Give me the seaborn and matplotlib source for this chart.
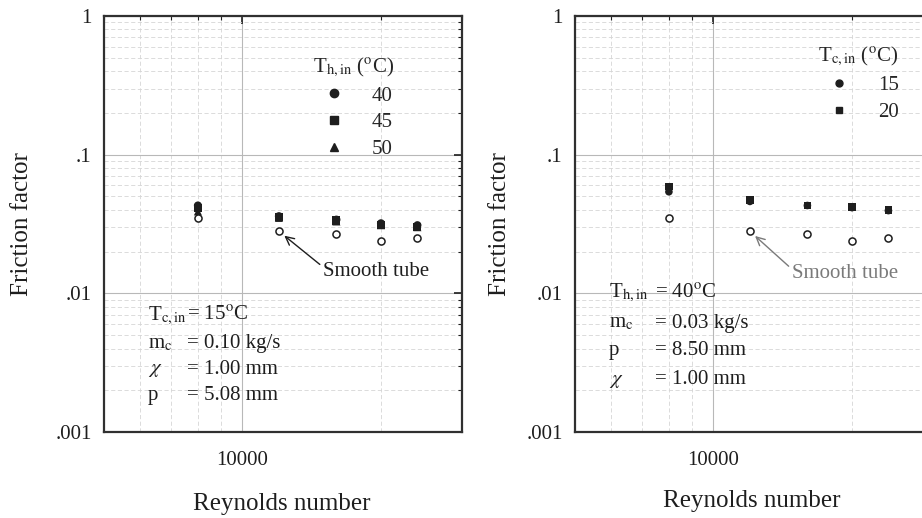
import matplotlib

matplotlib.use("Agg")
import matplotlib.pyplot as plt
import matplotlib.ticker as mticker
from matplotlib.lines import Line2D
import pandas as pd
import seaborn as sns

sns.set_style("white")
plt.rcParams["font.family"] = ["Liberation Serif", "DejaVu Serif"]
plt.rcParams["mathtext.fontset"] = "stix"

# Reynolds numbers (same for both panels)
RE = [8000, 12000, 16000, 20000, 24000]
F_SMOOTH = [0.035, 0.028, 0.027, 0.024, 0.025]

# left panel: hot inlet temperature series
TH_LABELS = ["40", "45", "50"]
F_TH40 = [0.043, 0.036, 0.034, 0.032, 0.031]
F_TH45 = [0.041, 0.0355, 0.0335, 0.031, 0.030]
F_TH50 = [0.039, 0.035, 0.033, 0.031, 0.030]

# right panel: cold inlet temperature series
TC_LABELS = ["15", "20"]
F_TC15 = [0.054, 0.046, 0.043, 0.0415, 0.0395]
F_TC20 = [0.059, 0.047, 0.043, 0.042, 0.040]

LEFT_NOTES = [
    (r"T$_{\mathrm{c,in}}$", r"= 15$^{\mathrm{o}}$C"),
    (r"m$_{\mathrm{c}}$", "= 0.10 kg/s"),
    (r"$\chi$", "= 1.00 mm"),
    ("p", "= 5.08 mm"),
]
RIGHT_NOTES = [
    (r"T$_{\mathrm{h,in}}$", r"= 40$^{\mathrm{o}}$C"),
    (r"m$_{\mathrm{c}}$", "= 0.03 kg/s"),
    ("p", "= 8.50 mm"),
    (r"$\chi$", "= 1.00 mm"),
]

INK = "#1e1e1e"
FS = 15


def style_axes(ax):
    ax.set_xscale("log")
    ax.set_yscale("log")
    ax.set_xlim(5000, 30000)
    ax.set_ylim(0.001, 1)
    ax.xaxis.set_major_locator(mticker.FixedLocator([10000]))
    ax.xaxis.set_major_formatter(mticker.FixedFormatter(["10000"]))
    ax.xaxis.set_minor_formatter(mticker.NullFormatter())
    ax.yaxis.set_major_locator(mticker.FixedLocator([0.001, 0.01, 0.1, 1]))
    ax.yaxis.set_major_formatter(mticker.FixedFormatter([".001", ".01", ".1", "1"]))
    ax.yaxis.set_minor_formatter(mticker.NullFormatter())
    ax.tick_params(which="both", direction="in", top=True, right=True, colors=INK, labelsize=FS)
    ax.tick_params(which="major", length=6, width=1.2)
    ax.tick_params(which="minor", length=3, width=0.8)
    ax.tick_params(axis="x", pad=14)
    ax.tick_params(axis="y", pad=9)
    ax.grid(which="major", color="#b8b8b8", lw=0.8)
    ax.grid(which="minor", color="#d6d6d6", lw=0.6, ls=(0, (5, 3)))
    ax.set_axisbelow(True)
    for sp in ax.spines.values():
        sp.set_color("#303030")
        sp.set_linewidth(1.6)
    ax.set_xlabel("Reynolds number", fontsize=18, color=INK)
    ax.set_ylabel("Friction factor", fontsize=18, color=INK)


def smooth_points(ax):
    sns.scatterplot(x=RE, y=F_SMOOTH, ax=ax, marker="o", s=26,
                    facecolor="white", edgecolor=INK, linewidth=1.1, zorder=3)


def notes(ax, rows, x_name, x_eq, ys, color):
    for (name, val), y in zip(rows, ys):
        ax.text(x_name, y, name, transform=ax.transAxes, fontsize=FS, color=color, va="center")
        ax.text(x_eq, y, val, transform=ax.transAxes, fontsize=FS, color=color, va="center")


fig = plt.figure(figsize=(9.22, 5.18), dpi=100)
ax1 = fig.add_axes([104 / 922, 86 / 518, 358 / 922, 416 / 518])
ax2 = fig.add_axes([575 / 922, 86 / 518, 358 / 922, 416 / 518])

# ---- left panel
style_axes(ax1)
left = pd.DataFrame({"Re": RE * 3, "f": F_TH50 + F_TH45 + F_TH40,
                     "T": ["50"] * 5 + ["45"] * 5 + ["40"] * 5})
sns.scatterplot(data=left, x="Re", y="f", style="T", ax=ax1, color=INK, s=34,
                markers={"40": "o", "45": "s", "50": "^"}, linewidth=0, legend=False, zorder=3)
smooth_points(ax1)
h1 = [Line2D([], [], ls="", marker=m, color=INK, ms=6) for m in ["o", "s", "^"]]
ax1.legend(h1, TH_LABELS, title=r"T$_{\mathrm{h,in}}$ ($^{\mathrm{o}}$C)", frameon=False,
           loc="upper left", bbox_to_anchor=(0.56, 0.925), fontsize=FS, title_fontsize=FS,
           handletextpad=0.8, labelspacing=0.35, borderaxespad=0)
ax1.annotate("Smooth tube", xy=(RE[1], F_SMOOTH[1]), xytext=(0.612, 0.385),
             textcoords="axes fraction", fontsize=FS, color=INK, va="center",
             arrowprops=dict(arrowstyle="->", color=INK, lw=1.0, shrinkA=0, shrinkB=5,
                             relpos=(0.0, 0.75)))
notes(ax1, LEFT_NOTES, 0.123, 0.232, [0.28, 0.213, 0.15, 0.088], INK)
ax1.yaxis.set_label_coords(-0.199, 0.5)
ax1.xaxis.set_label_coords(0.497, -0.146)

# ---- right panel
style_axes(ax2)
right = pd.DataFrame({"Re": RE * 2, "f": F_TC20 + F_TC15, "T": ["20"] * 5 + ["15"] * 5})
sns.scatterplot(data=right, x="Re", y="f", style="T", ax=ax2, color=INK, s=30,
                markers={"15": "o", "20": "s"}, linewidth=0, legend=False, zorder=3)
smooth_points(ax2)
h2 = [Line2D([], [], ls="", marker=m, color=INK, ms=5) for m in ["o", "s"]]
ax2.legend(h2, TC_LABELS, title=r"T$_{\mathrm{c,in}}$ ($^{\mathrm{o}}$C)", frameon=False,
           loc="upper left", bbox_to_anchor=(0.655, 0.95), fontsize=FS, title_fontsize=FS,
           handletextpad=0.9, labelspacing=0.35, borderaxespad=0)
ax2.annotate("Smooth tube", xy=(RE[1], F_SMOOTH[1]), xytext=(0.606, 0.38),
             textcoords="axes fraction", fontsize=FS, color="#7a7a7a", va="center",
             arrowprops=dict(arrowstyle="->", color="#7a7a7a", lw=1.0, shrinkA=0, shrinkB=5,
                             relpos=(0.0, 0.75)))
notes(ax2, RIGHT_NOTES, 0.095, 0.223, [0.334, 0.262, 0.195, 0.125], INK)
ax2.yaxis.set_label_coords(-0.18, 0.5)
ax2.xaxis.set_label_coords(0.494, -0.14)

fig.savefig("out.png", dpi=100)
